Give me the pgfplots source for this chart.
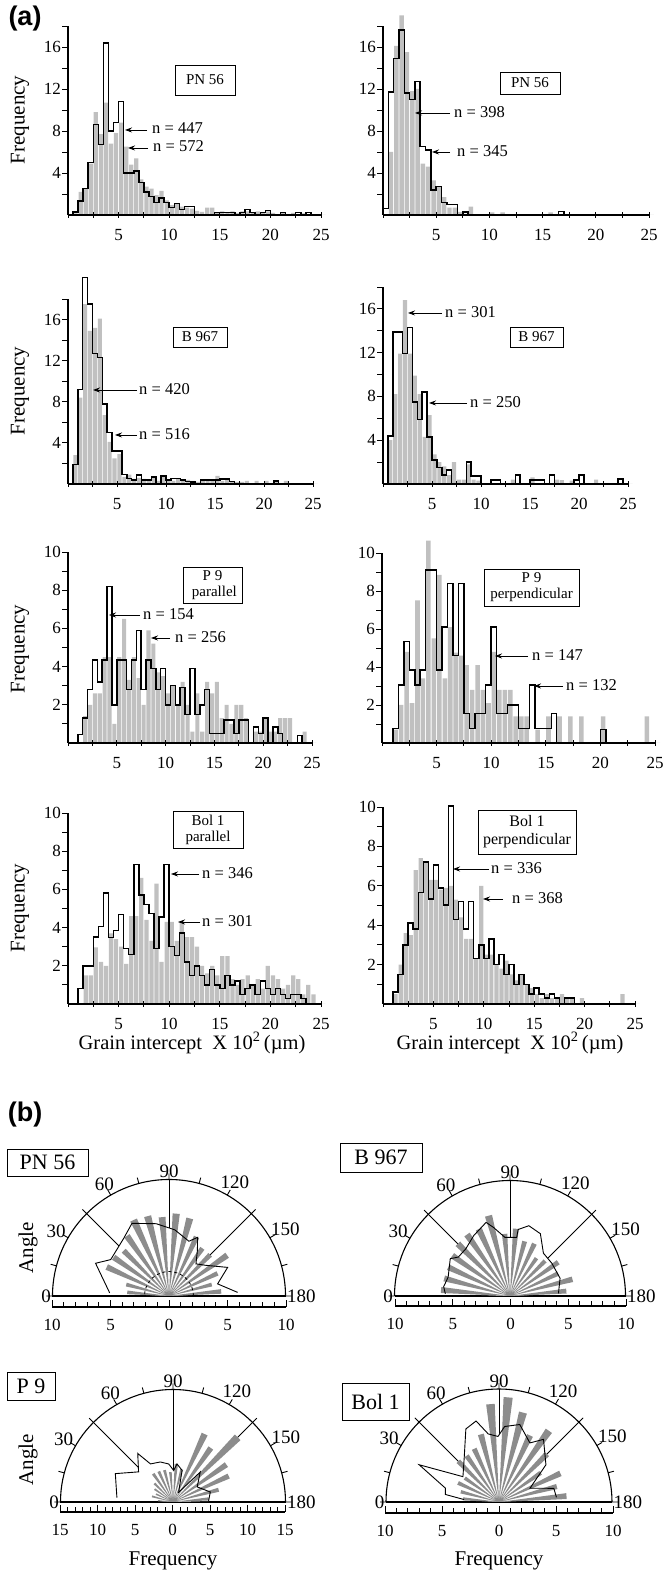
\documentclass[border=0pt]{standalone}
\usepackage{fontspec}
\setmainfont{Liberation Serif}
\newfontfamily\sansfont{Liberation Sans}
\usepackage{pgfplots}
\usepackage{pgfplotstable}
\pgfplotsset{compat=1.18}
\usepgfplotslibrary{polar}
\usetikzlibrary{arrows.meta}
\definecolor{hgray}{RGB}{192,192,192}
\definecolor{rgray}{RGB}{140,140,140}
\newcommand{\tfont}{\fontsize{17}{18}\selectfont}
\newcommand{\afont}{\fontsize{16.5}{18}\selectfont}
\newcommand{\lfont}{\fontsize{21}{22}\selectfont}
\newcommand{\xlfont}{\fontsize{20.5}{22}\selectfont}
\newcommand{\bfont}{\fontsize{15}{16}\selectfont}
\newcommand{\rfont}{\fontsize{19}{20}\selectfont}
\newcommand{\rbfont}{\fontsize{22}{23}\selectfont}

\pgfplotsset{
  hist/.style={
    scale only axis, clip=false, axis on top,
    xmin=0, xmax=25, ymin=0,
    axis x line*=bottom, axis y line*=left,
    axis line style={-, line width=1.1pt},
    xtick={5,10,15,20,25}, minor xtick={0,2.5,7.5,12.5,17.5,22.5},
    xtick align=center, ytick align=outside,
    major tick length=6pt, minor tick length=6pt,
    every tick/.style={black, line width=0.9pt},
    tick label style={font=\tfont},
    yticklabel style={inner xsep=1pt},
    xticklabel style={yshift=-7.5pt},
    /pgf/number format/assume math mode=true,
  },
  histA/.style={hist, ymax=18, ytick={4,8,12,16}, minor ytick={2,6,10,14,18}},
  histB/.style={hist, ymax=10, ytick={2,4,6,8,10}, minor ytick={1,3,5,7,9}},
  gbar/.style={ybar, bar width=0.42, bar shift=0pt, fill=hgray, draw=none},
  bline/.style={const plot, black, line width=1.5pt},
  rose/.style={
    scale only axis, clip=false,
    xmin=0, xmax=180, ymin=0,
    xtick={0,30,...,180}, xticklabels={180,150,120,90,60,30,0},
    minor xtick={15,45,...,165},
    ytick=\empty, grid=none,
    axis line style={line width=1.1pt},
    xtick align=inside,
    major tick length=6pt, minor tick length=6pt,
    every tick/.style={black, line width=0.9pt},
    xticklabel style={font=\rfont, inner sep=1.5pt},
  },
  freq/.style={
    scale only axis, height=1pt, ymin=0, ymax=1,
    axis y line=none, axis x line*=bottom,
    axis line style={-, line width=1.1pt},
    xtick align=inside,
    major tick length=7pt, minor tick length=5pt,
    every tick/.style={black, line width=0.9pt},
    tick label style={font=\tfont},
    xticklabel style={yshift=-9pt},
  },
  wedge/.style={fill=rgray, draw=none},
  outl/.style={black, line width=0.9pt},
}

% ---------- histogram data: bin left edge x, grey (g), black outline (b)
\pgfplotstableread{
x g b
0 0 0
0.5 0.15 0.3
1 2.2 1.35
1.5 2.5 2.5
2 4.9 5.0
2.5 9.8 8.6
3 7.7 6.7
3.5 10.7 16.4
4 6.8 8.0
4.5 7.8 8.8
5 8.8 10.8
5.5 6.5 4.0
6 4.8 4.0
6.5 5.4 4.2
7 3.4 3.1
7.5 2.7 2.2
8 2.5 1.75
8.5 1.9 1.2
9 2.3 1.6
9.5 1.4 1.2
10 0.95 0.7
10.5 1.1 1.1
11 0.8 0.5
11.5 0.7 0.8
12 0.6 0.8
12.5 0.4 0
13 0.3 0
13.5 0.7 0
14 0.7 0
14.5 0.25 0.25
15 0.35 0.25
15.5 0.2 0.25
16 0.35 0.25
16.5 0.2 0
17 0.35 0.25
17.5 0.35 0.5
18 0.25 0.25
18.5 0.35 0
19 0.2 0.25
19.5 0.35 0.45
20 0.2 0
20.5 0 0
21 0.2 0.25
21.5 0 0
22 0.2 0
22.5 0 0.25
23 0.15 0
23.5 0 0.25
24 0 0
24.5 0 0
25 0 0
}\tA
\pgfplotstableread{
x g b
0 0 0.6
0.5 6.0 11.7
1 16.1 14.9
1.5 19.0 17.6
2 15.5 11.6
2.5 11.8 11.0
3 12.0 12.7
3.5 4.9 6.5
4 4.6 6.2
4.5 3.3 2.4
5 2.7 2.7
5.5 1.7 1.2
6 0.7 1.0
6.5 0.7 1.0
7 0.3 0
7.5 0.1 0.3
8 0.8 0
8.5 0 0
9 0 0
9.5 0 0
10 0.25 0
10.5 0 0
11 0.25 0
11.5 0 0
12 0 0
12.5 0 0
13 0 0
13.5 0 0
14 0 0
14.5 0 0
15 0 0
15.5 0.25 0
16 0 0
16.5 0 0.35
17 0 0
17.5 0 0
18 0 0
18.5 0 0
19 0 0
19.5 0 0
20 0 0
20.5 0 0
21 0 0
21.5 0 0
22 0 0
22.5 0 0
23 0 0
23.5 0 0
24 0 0
24.5 0 0
25 0 0
}\tB
\pgfplotstableread{
x g b
0 0 0
0.5 2.8 1.9
1 8.4 9.2
1.5 17.5 20.1
2 14.9 17.5
2.5 15.2 12.7
3 16.1 12.3
3.5 6.7 7.8
4 4.1 5.0
4.5 2.5 3.2
5 2.9 3.2
5.5 0.7 0.9
6 0.9 0.55
6.5 0.5 0.4
7 0.6 0.85
7.5 0.5 0.4
8 0.3 0.4
8.5 0.6 0.7
9 0.3 0
9.5 0.7 0.8
10 0.4 0.4
10.5 0.3 0.55
11 0.5 0.55
11.5 0.3 0.4
12 0.4 0.25
12.5 0.3 0.2
13 0.2 0
13.5 0.3 0.4
14 0.3 0.4
14.5 0.3 0.4
15 0.8 0.4
15.5 0.3 0.5
16 0.4 0.5
16.5 0.2 0.25
17 0.2 0
17.5 0.2 0
18 0.3 0
18.5 0 0
19 0.3 0
19.5 0 0
20 0.3 0
20.5 0 0
21 0.2 0.3
21.5 0 0
22 0.3 0
22.5 0 0
23 0 0
23.5 0 0
24 0 0
24.5 0 0
25 0 0
}\tC
\pgfplotstableread{
x g b
0 0 0
0.5 4.0 4.4
1 8.2 13.9
1.5 11.9 13.9
2 16.8 11.9
2.5 11.9 14.3
3 9.9 7.5
3.5 8.2 5.9
4 4.3 8.4
4.5 6.3 4.3
5 2.7 2.2
5.5 2.0 1.5
6 1.6 0.8
6.5 0.8 1.3
7 2.0 0
7.5 0.4 0
8 0.4 0
8.5 1.8 2.0
9 0.4 0.75
9.5 0.3 0.75
10 0 0
10.5 0 0
11 0 0.35
11.5 0 0.35
12 0 0
12.5 0 0
13 0.4 0
13.5 0 0.8
14 0 0
14.5 0 0
15 0.6 0.35
15.5 0 0.35
16 0 0.35
16.5 0 0
17 0 0.8
17.5 0.4 0
18 0.35 0
18.5 0 0
19 0.3 0
19.5 0 0.35
20 0 0.8
20.5 0 0
21 0 0
21.5 0.4 0
22 0 0
22.5 0 0
23 0 0
23.5 0 0
24 0 0.45
24.5 0 0
25 0 0
}\tD
\pgfplotstableread{
x g b
0 0 0
0.5 0 0
1 0 0.45
1.5 1.4 1.3
2 2.0 2.8
2.5 2.6 4.35
3 2.6 3.2
3.5 4.5 4.35
4 4.5 8.2
4.5 1.0 2.0
5 4.5 4.35
5.5 6.5 4.35
6 3.3 2.8
6.5 4.5 4.35
7 3.4 5.9
7.5 2.0 2.8
8 5.9 4.35
8.5 5.2 3.9
9 3.7 2.8
9.5 3.5 3.9
10 2.6 2.0
10.5 3.0 3.0
11 2.0 2.0
11.5 3.2 2.9
12 2.0 1.5
12.5 0.6 3.9
13 2.6 1.5
13.5 0.6 2.0
14 3.2 2.8
14.5 2.6 0.5
15 3.2 0.5
15.5 1.3 0.5
16 2.0 1.2
16.5 1.0 1.2
17 2.0 0.5
17.5 2.0 1.2
18 1.3 1.2
18.5 0 0
19 0.6 0.85
19.5 0.6 0.5
20 1.3 1.3
20.5 0.6 0
21 0.6 0.85
21.5 1.3 0.5
22 1.3 0
22.5 1.3 0
23 0 0
23.5 0 0.4
24 0.6 0
24.5 0 0
25 0 0
}\tE
\pgfplotstableread{
x g b
0 0 0
0.5 0 0
1 0.7 0.77
1.5 2.0 3.05
2 4.8 5.34
2.5 2.1 3.85
3 7.5 3.05
3.5 3.4 3.85
4 10.65 9.1
4.5 5.5 9.1
5 8.85 3.85
5.5 3.4 6.1
6 6.1 8.4
6.5 4.75 4.6
7 4.6 8.4
7.5 4.1 1.55
8 2.8 0.77
8.5 4.1 1.55
9 2.8 1.55
9.5 2.1 3.05
10 4.8 6.1
10.5 2.8 1.55
11 2.8 1.55
11.5 2.8 2.0
12 1.4 2.0
12.5 1.4 0.77
13 1.4 0.77
13.5 0 3.05
14 0.7 0.77
14.5 0 0.77
15 1.4 0.77
15.5 0 1.55
16 1.4 0
16.5 0 0
17 1.4 0
17.5 0 0
18 1.4 0
18.5 0 0
19 0 0
19.5 0 0
20 1.4 0.7
20.5 0 0
21 0 0
21.5 0 0
22 0 0
22.5 0 0
23 0 0
23.5 0 0
24 1.4 0
24.5 0 0
25 0 0
}\tF
\pgfplotstableread{
x g b
0 0 0
0.5 0 0
1 0 0.8
1.5 1.5 2.0
2 1.5 2.0
2.5 2.97 3.5
3 2.2 4.07
3.5 2.0 5.82
4 3.7 3.47
4.5 3.4 3.85
5 3.0 4.68
5.5 2.1 2.9
6 4.6 2.6
6.5 4.6 7.3
7 6.6 5.7
7.5 4.4 5.2
8 3.3 4.73
8.5 6.3 2.9
9 2.2 4.55
9.5 4.3 7.3
10 4.3 3.0
10.5 3.3 2.55
11 4.3 3.72
11.5 3.5 2.2
12 3.5 1.5
12.5 3.0 2.0
13 2.0 1.5
13.5 1.6 1.0
14 2.0 1.8
14.5 1.5 1.0
15 2.5 0.8
15.5 2.5 1.5
16 1.3 1.0
16.5 1.0 1.2
17 1.3 0.5
17.5 1.5 0.8
18 1.0 1.0
18.5 1.3 0.5
19 0.8 1.2
19.5 2.0 0.8
20 1.5 0.5
20.5 1.3 0.8
21 0.8 0.5
21.5 1.0 0.3
22 1.5 0.5
22.5 1.3 0.5
23 0.5 0.3
23.5 1.0 0
24 0.5 0
24.5 0 0
25 0 0
}\tG
\pgfplotstableread{
x g b
0 0 0
0.5 0 0
1 0.5 0.6
1.5 2.0 1.5
2 3.6 3.0
2.5 3.5 4.1
3 6.8 3.8
3.5 7.4 5.65
4 7.25 7.2
4.5 6.3 5.33
5 6.3 7.05
5.5 5.8 5.9
6 5.9 5.03
6.5 6.0 10.05
7 5.3 4.3
7.5 4.4 5.2
8 3.3 3.8
8.5 3.3 5.2
9 2.3 2.3
9.5 6.0 3.0
10 2.5 2.3
10.5 2.5 3.3
11 2.0 2.0
11.5 1.8 2.5
12 2.2 1.5
12.5 1.5 2.0
13 1.2 1.0
13.5 1.5 1.5
14 1.0 1.0
14.5 0.8 0.5
15 0.5 0.8
15.5 0.3 0.5
16 0.5 0.3
16.5 0.3 0.5
17 0.3 0.3
17.5 0.5 0
18 0.3 0.3
18.5 0.3 0.3
19 0 0
19.5 0.3 0
20 0 0
20.5 0 0
21 0 0
21.5 0 0
22 0 0
22.5 0 0
23 0 0
23.5 0.5 0
24 0 0
24.5 0 0
25 0 0
}\tH

\begin{document}
\begin{tikzpicture}[x=1pt,y=1pt]
\useasboundingbox (0pt,0pt) rectangle (663pt,1573pt);

% ================= (a) histograms =================
\node[font=\sansfont\bfseries\fontsize{27}{28}\selectfont] at (25pt,1554pt) {(a)};

% Row 1 left: PN 56
\begin{axis}[histA, at={(68pt,1358pt)}, anchor=south west, width=253pt, height=189pt]
\addplot[gbar] table[x expr=\thisrow{x}+0.25, y=g] \tA;
\addplot[bline] table[x=x, y=b] \tA;
\end{axis}
% Row 1 right: PN 56
\begin{axis}[histA, at={(383pt,1358pt)}, anchor=south west, width=266pt, height=189pt]
\addplot[gbar] table[x expr=\thisrow{x}+0.25, y=g] \tB;
\addplot[bline] table[x=x, y=b] \tB;
\end{axis}
% Row 2 left: B 967
\begin{axis}[histA, at={(68pt,1089pt)}, anchor=south west, width=245pt, height=185pt]
\addplot[gbar] table[x expr=\thisrow{x}+0.25, y=g] \tC;
\addplot[bline] table[x=x, y=b] \tC;
\end{axis}
% Row 2 right: B 967
\begin{axis}[histA, at={(383pt,1089pt)}, anchor=south west, width=245pt, height=197pt]
\addplot[gbar] table[x expr=\thisrow{x}+0.25, y=g] \tD;
\addplot[bline] table[x=x, y=b] \tD;
\end{axis}
% Row 3 left: P 9 parallel
\begin{axis}[histB, at={(68pt,830pt)}, anchor=south west, width=244pt, height=191pt]
\addplot[gbar] table[x expr=\thisrow{x}+0.25, y=g] \tE;
\addplot[bline] table[x=x, y=b] \tE;
\end{axis}
% Row 3 right: P 9 perpendicular
\begin{axis}[histB, at={(382pt,830pt)}, anchor=south west, width=273pt, height=190pt]
\addplot[gbar] table[x expr=\thisrow{x}+0.25, y=g] \tF;
\addplot[bline] table[x=x, y=b] \tF;
\end{axis}
% Row 4 left: Bol 1 parallel
\begin{axis}[histB, at={(68pt,569pt)}, anchor=south west, width=253pt, height=191pt]
\addplot[gbar] table[x expr=\thisrow{x}+0.25, y=g] \tG;
\addplot[bline] table[x=x, y=b] \tG;
\end{axis}
% Row 4 right: Bol 1 perpendicular
\begin{axis}[histB, at={(383pt,569pt)}, anchor=south west, width=252pt, height=197pt]
\addplot[gbar] table[x expr=\thisrow{x}+0.25, y=g] \tH;
\addplot[bline] table[x=x, y=b] \tH;
\end{axis}

% y labels
\foreach \yy in {1453,1182,924,665} {
  \node[rotate=90, font=\lfont] at (20pt,\yy pt) {Frequency};
}
% x labels
\node[font=\xlfont] at (192pt,530pt) {Grain intercept\ \ X 10\textsuperscript{2}\,(µm)};
\node[font=\xlfont] at (510pt,530pt) {Grain intercept\ \ X 10\textsuperscript{2}\,(µm)};

% boxes
\tikzset{hbox/.style={draw, line width=0.8pt, inner sep=0pt, font=\bfont, align=center}}
\node[hbox, minimum width=60pt, minimum height=30pt] at (205pt,1493pt) {PN 56};
\node[hbox, minimum width=60pt, minimum height=22pt] at (530pt,1490pt) {PN 56};
\node[hbox, minimum width=54pt, minimum height=20pt] at (200pt,1236pt) {B 967};
\node[hbox, minimum width=53pt, minimum height=20pt] at (536.5pt,1236pt) {B 967};
\node[hbox, minimum width=59pt, minimum height=36pt] at (212.5pt,988pt) {P 9\\\ parallel};
\node[hbox, minimum width=95pt, minimum height=37pt] at (531.5pt,985.5pt) {P 9\\perpendicular};
\node[hbox, minimum width=70pt, minimum height=37pt] at (208pt,743.5pt) {Bol 1\\parallel};
\node[hbox, minimum width=98pt, minimum height=44pt, font=\fontsize{16}{18}\selectfont] at (527pt,741pt) {Bol 1\\perpendicular};

% arrows and n labels
\tikzset{narr/.style={-{Stealth[length=7pt,width=5pt]}, line width=0.8pt},
         nlab/.style={anchor=west, font=\afont, inner sep=0pt}}
\draw[narr] (147pt,1443pt) -- (125pt,1443pt); \node[nlab] at (152pt,1445pt) {n = 447};
\draw[narr] (148pt,1425pt) -- (128pt,1425pt); \node[nlab] at (153pt,1427pt) {n = 572};
\draw[narr] (450pt,1460pt) -- (415pt,1460pt); \node[nlab] at (454pt,1461pt) {n = 398};
\draw[narr] (450pt,1421pt) -- (432pt,1421pt); \node[nlab] at (457pt,1422pt) {n = 345};
\draw[narr] (137pt,1183pt) -- (93pt,1183pt);  \node[nlab] at (139pt,1184pt) {n = 420};
\draw[narr] (137pt,1138pt) -- (115pt,1138pt); \node[nlab] at (139pt,1139pt) {n = 516};
\draw[narr] (442pt,1260pt) -- (408pt,1260pt); \node[nlab] at (445pt,1261pt) {n = 301};
\draw[narr] (467pt,1170pt) -- (429pt,1170pt); \node[nlab] at (470pt,1171pt) {n = 250};
\draw[narr] (140pt,958pt) -- (109pt,958pt);   \node[nlab] at (143pt,959pt) {n = 154};
\draw[narr] (170pt,935pt) -- (151pt,935pt);   \node[nlab] at (175pt,936pt) {n = 256};
\draw[narr] (528pt,917pt) -- (495pt,917pt);   \node[nlab] at (532pt,918pt) {n = 147};
\draw[narr] (563pt,887pt) -- (534pt,887pt);   \node[nlab] at (566pt,888pt) {n = 132};
\draw[narr] (199pt,699pt) -- (171pt,699pt);   \node[nlab] at (202pt,700pt) {n = 346};
\draw[narr] (200pt,651pt) -- (178pt,651pt);   \node[nlab] at (202pt,652pt) {n = 301};
\draw[narr] (489pt,704pt) -- (453pt,704pt);   \node[nlab] at (491pt,705pt) {n = 336};
\draw[narr] (503pt,674pt) -- (483pt,674pt);   \node[nlab] at (512pt,675pt) {n = 368};

% ================= (b) rose diagrams =================
\node[font=\sansfont\bfseries\fontsize{27}{28}\selectfont] at (25pt,458pt) {(b)};

% PN 56
\begin{polaraxis}[rose, ymax=10, at={(169pt,277pt)}, anchor=origin, width=233pt, height=233pt]
\addplot[outl] coordinates {(45,0)(45,10)};
\addplot[outl] coordinates {(90,0)(90,10)};
\addplot[outl] coordinates {(135,0)(135,10)};
\addplot[fill=white, draw=none] coordinates {(0,0)(3,5.9)(14,4.3)(26,5.6)(40,4.1)(50,3.6)(58,4.6)(64,5.6)(70,5.0)(85,5.7)(100,6.3)(117,7.0)(128,6.3)(138,6.0)(148,5.9)(156,6.9)(177,5.1)(180,0)};
\addplot[wedge] coordinates {(0,0)(2.5,4.5)(7.5,4.5)(0,0)(12.5,3.8)(17.5,3.8)(0,0)(22.5,4.6)(27.5,4.6)(0,0)(32.5,6.1)(37.5,6.1)(0,0)(42.5,5.0)(47.5,5.0)(0,0)(52.5,5.0)(57.5,5.0)(0,0)(62.5,5.6)(67.5,5.6)(0,0)(72.5,6.9)(77.5,6.9)(0,0)(82.5,7.1)(87.5,7.1)(0,0)(92.5,6.8)(97.5,6.8)(0,0)(102.5,7.1)(107.5,7.1)(0,0)(112.5,7.2)(117.5,7.2)(0,0)(122.5,6.3)(127.5,6.3)(0,0)(132.5,5.5)(137.5,5.5)(0,0)(142.5,5.8)(147.5,5.8)(0,0)(152.5,5.9)(157.5,5.9)(0,0)(162.5,3.8)(167.5,3.8)(0,0)(172.5,3.6)(177.5,3.6)(0,0)};
\addplot[black, dashed, line width=0.8pt] coordinates {(0,2.1)(10,2.1)(20,2.1)(30,2.1)(40,2.1)(50,2.1)(60,2.1)(70,2.1)(80,2.1)(90,2.1)(100,2.1)(110,2.1)(120,2.1)(130,2.1)(140,2.1)(150,2.1)(160,2.1)(170,2.1)(180,2.1)};
\addplot[outl] coordinates {(3,5.9)(14,4.3)(26,5.6)(40,4.1)(50,3.6)(58,4.6)(64,5.6)(70,5.0)(85,5.7)(100,6.3)(117,7.0)(128,6.3)(138,6.0)(148,5.9)(156,6.9)(177,5.1)};
\end{polaraxis}
\begin{axis}[freq, at={(169pt,266pt)}, anchor=south, width=234pt, xmin=-10, xmax=10, xtick={-10,-5,0,5,10}, xticklabels={10,5,0,5,10}, minor xtick={-9,...,9}]
\end{axis}

% B 967
\begin{polaraxis}[rose, ymax=10, at={(510pt,277pt)}, anchor=origin, width=231pt, height=231pt]
\addplot[outl] coordinates {(45,0)(45,10)};
\addplot[outl] coordinates {(90,0)(90,10)};
\addplot[outl] coordinates {(135,0)(135,10)};
\addplot[fill=white, draw=none] coordinates {(0,0)(3,4.2)(19.5,4.6)(38,4.6)(52,4.7)(64,6.0)(75,6.3)(83,5.8)(83.5,5.1)(95,5.1)(103.5,6.1)(108,6.7)(121,6.1)(133,5.6)(143,5.6)(148,6.1)(163,5.6)(172,5.8)(178,5.6)(180,0)};
\addplot[wedge] coordinates {(0,0)(2.5,4.9)(7.5,4.9)(0,0)(12.5,5.6)(17.5,5.6)(0,0)(22.5,4.6)(27.5,4.6)(0,0)(32.5,5.1)(37.5,5.1)(0,0)(42.5,4.3)(47.5,4.3)(0,0)(52.5,4.0)(57.5,4.0)(0,0)(62.5,5.0)(67.5,5.0)(0,0)(72.5,4.9)(77.5,4.9)(0,0)(82.5,5.85)(87.5,5.85)(0,0)(92.5,5.4)(97.5,5.4)(0,0)(102.5,7.2)(107.5,7.2)(0,0)(112.5,6.4)(117.5,6.4)(0,0)(122.5,6.5)(127.5,6.5)(0,0)(132.5,6.4)(137.5,6.4)(0,0)(142.5,6.1)(147.5,6.1)(0,0)(152.5,5.9)(157.5,5.9)(0,0)(162.5,5.9)(167.5,5.9)(0,0)(172.5,6.0)(177.5,6.0)(0,0)};
\addplot[outl] coordinates {(3,4.2)(19.5,4.6)(38,4.6)(52,4.7)(64,6.0)(75,6.3)(83,5.8)(83.5,5.1)(95,5.1)(103.5,6.1)(108,6.7)(121,6.1)(133,5.6)(143,5.6)(148,6.1)(163,5.6)(172,5.8)(178,5.6)};
\end{polaraxis}
\begin{axis}[freq, at={(510.5pt,267pt)}, anchor=south, width=231pt, xmin=-10, xmax=10, xtick={-10,-5,0,5,10}, xticklabels={10,5,0,5,10}, minor xtick={-9,...,9}]
\end{axis}

% P 9
\begin{polaraxis}[rose, ymax=15, at={(173pt,71pt)}, anchor=origin, width=225pt, height=225pt]
\addplot[outl] coordinates {(45,0)(45,15)};
\addplot[outl] coordinates {(90,0)(90,15)};
\addplot[outl] coordinates {(135,0)(135,15)};
\addplot[fill=white, draw=none] coordinates {(0,0)(1.6,4.75)(15,5.15)(32,3.8)(47.7,5.4)(60,1.5)(74,4.4)(84,5.1)(88.8,4.2)(96.4,5.1)(107.6,5.6)(120.6,5.9)(126,8.0)(138.8,6.1)(153.8,8.57)(175.6,7.5)(180,0)};
\addplot[wedge] coordinates {(0,0)(2.5,4.8)(7.5,4.8)(0,0)(12.5,6.3)(17.5,6.3)(0,0)(22.5,8.2)(27.5,8.2)(0,0)(32.5,8.7)(37.5,8.7)(0,0)(42.5,12.2)(47.5,12.2)(0,0)(52.5,8.8)(57.5,8.8)(0,0)(62.5,10.0)(67.5,10.0)(0,0)(72.5,4.5)(77.5,4.5)(0,0)(82.5,5.1)(87.5,5.1)(0,0)(92.5,4.0)(97.5,4.0)(0,0)(102.5,4.4)(107.5,4.4)(0,0)(112.5,4.5)(117.5,4.5)(0,0)(122.5,4.6)(127.5,4.6)(0,0)(132.5,3.5)(137.5,3.5)(0,0)(142.5,3.0)(147.5,3.0)(0,0)(152.5,2.5)(157.5,2.5)(0,0)(162.5,2.9)(167.5,2.9)(0,0)(172.5,2.0)(177.5,2.0)(0,0)};
\addplot[outl] coordinates {(1.6,4.75)(15,5.15)(32,3.8)(47.7,5.4)(60,1.5)(74,4.4)(84,5.1)(88.8,4.2)(96.4,5.1)(107.6,5.6)(120.6,5.9)(126,8.0)(138.8,6.1)(153.8,8.57)(175.6,7.5)};
\end{polaraxis}
\begin{axis}[freq, at={(172.5pt,61pt)}, anchor=south, width=225pt, xmin=-15, xmax=15, xtick={-15,-10,-5,0,5,10,15}, xticklabels={15,10,5,0,5,10,15}, minor xtick={-14,...,14}]
\end{axis}

% Bol 1
\begin{polaraxis}[rose, ymax=10, at={(499pt,71pt)}, anchor=origin, width=226pt, height=226pt]
\addplot[outl] coordinates {(45,0)(45,10)};
\addplot[outl] coordinates {(90,0)(90,10)};
\addplot[outl] coordinates {(135,0)(135,10)};
\addplot[fill=white, draw=none] coordinates {(0,0)(4.7,5.1)(14,5.0)(24,3.0)(38.4,5.3)(54.6,6.8)(62.4,5.9)(75,7.1)(85.7,6.7)(90.9,5.8)(99,6.1)(105.8,7.45)(114.4,7.1)(127,5.1)(144.9,3.9)(155,7.8)(165.5,4.9)(172,4.8)(176,3.1)(180,0)};
\addplot[wedge] coordinates {(0,0)(2.5,6.0)(7.5,6.0)(0,0)(12.5,5.3)(17.5,5.3)(0,0)(22.5,6.0)(27.5,6.0)(0,0)(32.5,4.5)(37.5,4.5)(0,0)(42.5,6.0)(47.5,6.0)(0,0)(52.5,7.7)(57.5,7.7)(0,0)(62.5,6.5)(67.5,6.5)(0,0)(72.5,8.2)(77.5,8.2)(0,0)(82.5,9.3)(87.5,9.3)(0,0)(92.5,8.7)(97.5,8.7)(0,0)(102.5,6.2)(107.5,6.2)(0,0)(112.5,5.2)(117.5,5.2)(0,0)(122.5,5.0)(127.5,5.0)(0,0)(132.5,5.1)(137.5,5.1)(0,0)(142.5,3.7)(147.5,3.7)(0,0)(152.5,4.0)(157.5,4.0)(0,0)(162.5,3.5)(167.5,3.5)(0,0)(172.5,3.2)(177.5,3.2)(0,0)};
\addplot[outl] coordinates {(4.7,5.1)(14,5.0)(24,3.0)(38.4,5.3)(54.6,6.8)(62.4,5.9)(75,7.1)(85.7,6.7)(90.9,5.8)(99,6.1)(105.8,7.45)(114.4,7.1)(127,5.1)(144.9,3.9)(155,7.8)(165.5,4.9)(172,4.8)(176,3.1)};
\end{polaraxis}
\begin{axis}[freq, at={(499pt,60pt)}, anchor=south, width=228pt, xmin=-10, xmax=10, xtick={-10,-5,0,5,10}, xticklabels={10,5,0,5,10}, minor xtick={-9,...,9}]
\end{axis}

% rose labels
\node[rotate=90, font=\lfont] at (28pt,325pt) {Angle};
\node[rotate=90, font=\lfont] at (28pt,113pt) {Angle};
\node[font=\lfont] at (173pt,12pt) {Frequency};
\node[font=\lfont] at (499pt,12pt) {Frequency};
\tikzset{rbox/.style={draw, line width=0.8pt, inner sep=0pt, font=\rbfont}}
\node[rbox, minimum width=81pt, minimum height=27pt] at (47.5pt,410.5pt) {PN 56};
\node[rbox, minimum width=82pt, minimum height=29pt] at (381pt,415.5pt) {B 967};
\node[rbox, minimum width=48pt, minimum height=28pt] at (31pt,187pt) {P 9};
\node[rbox, minimum width=67pt, minimum height=37pt] at (375.5pt,171.5pt) {Bol 1};
\end{tikzpicture}
\end{document}
